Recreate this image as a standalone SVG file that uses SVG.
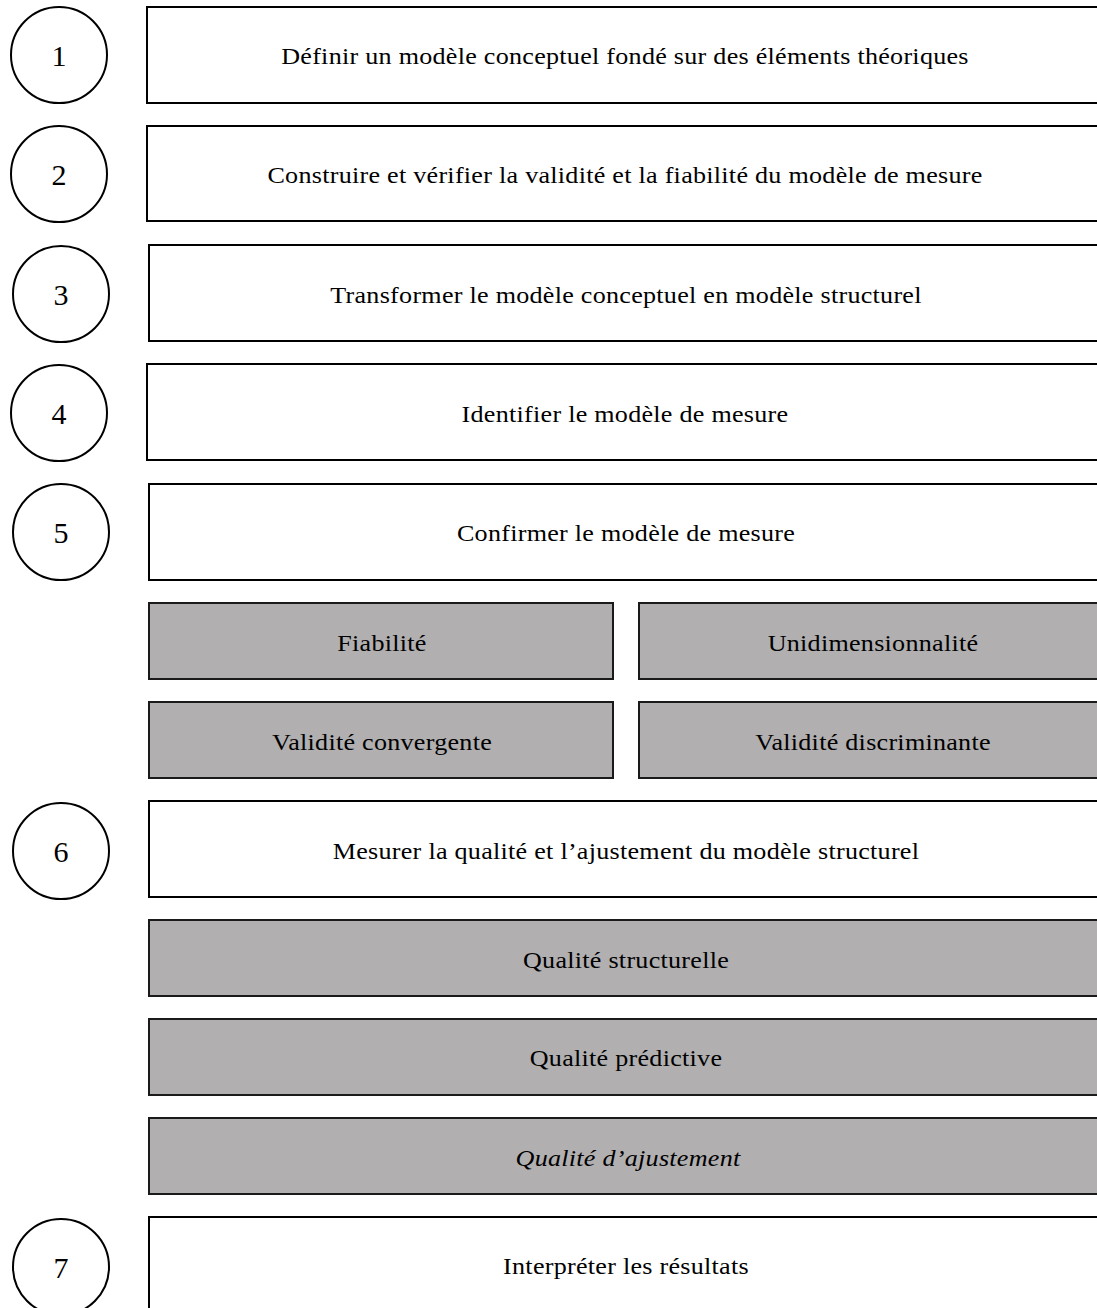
<svg xmlns="http://www.w3.org/2000/svg" width="1097" height="1308" viewBox="0 0 1097 1308">
<style>
.c{fill:#fff;stroke:#000;stroke-width:2}
.b{fill:#fff;stroke:#000;stroke-width:2}
.g{fill:#b1afb0;stroke:#1a1a1a;stroke-width:2}
text{font-family:"Liberation Serif","Times New Roman",serif;font-size:23.5px;letter-spacing:0.25px;fill:#000;text-anchor:middle;dominant-baseline:central}
.n{font-size:30px;letter-spacing:0}
</style>
<rect width="1097" height="1308" fill="#fff"/>
<g id="c1"><circle class="c" cx="59" cy="55" r="48"/><text class="n" x="59" y="55">1</text></g>
<g id="s1"><rect class="b" x="147" y="7" width="955" height="96"/><text transform="translate(625 56) scale(1.11 1)">Définir un modèle conceptuel fondé sur des éléments théoriques</text></g>
<g id="c2"><circle class="c" cx="59" cy="174" r="48"/><text class="n" x="59" y="174">2</text></g>
<g id="s2"><rect class="b" x="147" y="126" width="955" height="95"/><text transform="translate(625 175) scale(1.11 1)">Construire et vérifier la validité et la fiabilité du modèle de mesure</text></g>
<g id="c3"><circle class="c" cx="61" cy="294" r="48"/><text class="n" x="61" y="294">3</text></g>
<g id="s3"><rect class="b" x="149" y="245" width="955" height="96"/><text transform="translate(626 295) scale(1.11 1)">Transformer le modèle conceptuel en modèle structurel</text></g>
<g id="c4"><circle class="c" cx="59" cy="413" r="48"/><text class="n" x="59" y="413">4</text></g>
<g id="s4"><rect class="b" x="147" y="364" width="955" height="96"/><text transform="translate(625 414) scale(1.11 1)">Identifier le modèle de mesure</text></g>
<g id="c5"><circle class="c" cx="61" cy="532" r="48"/><text class="n" x="61" y="532">5</text></g>
<g id="s5"><rect class="b" x="149" y="484" width="955" height="96"/><text transform="translate(626 533) scale(1.11 1)">Confirmer le modèle de mesure</text></g>
<g id="fiab"><rect class="g" x="149" y="603" width="464" height="76"/><text transform="translate(382 643) scale(1.11 1)">Fiabilité</text></g>
<g id="unid"><rect class="g" x="639" y="603" width="466" height="76"/><text transform="translate(873 643) scale(1.11 1)">Unidimensionnalité</text></g>
<g id="vconv"><rect class="g" x="149" y="702" width="464" height="76"/><text transform="translate(382 742) scale(1.11 1)">Validité convergente</text></g>
<g id="vdisc"><rect class="g" x="639" y="702" width="466" height="76"/><text transform="translate(873 742) scale(1.11 1)">Validité discriminante</text></g>
<g id="c6"><circle class="c" cx="61" cy="851" r="48"/><text class="n" x="61" y="851">6</text></g>
<g id="s6"><rect class="b" x="149" y="801" width="955" height="96"/><text transform="translate(626 851) scale(1.11 1)">Mesurer la qualité et l’ajustement du modèle structurel</text></g>
<g id="qs"><rect class="g" x="149" y="920" width="955" height="76"/><text transform="translate(626 960) scale(1.11 1)">Qualité structurelle</text></g>
<g id="qp"><rect class="g" x="149" y="1019" width="955" height="76"/><text transform="translate(626 1058) scale(1.11 1)">Qualité prédictive</text></g>
<g id="qa"><rect class="g" x="149" y="1118" width="955" height="76"/><text transform="translate(628 1158) scale(1.11 1)" font-style="italic">Qualité d’ajustement</text></g>
<g id="c7"><circle class="c" cx="61" cy="1267" r="48"/><text class="n" x="61" y="1267">7</text></g>
<g id="s7"><rect class="b" x="149" y="1217" width="955" height="100"/><text transform="translate(626 1266) scale(1.11 1)">Interpréter les résultats</text></g>
<g id="connectors"></g>
</svg>
